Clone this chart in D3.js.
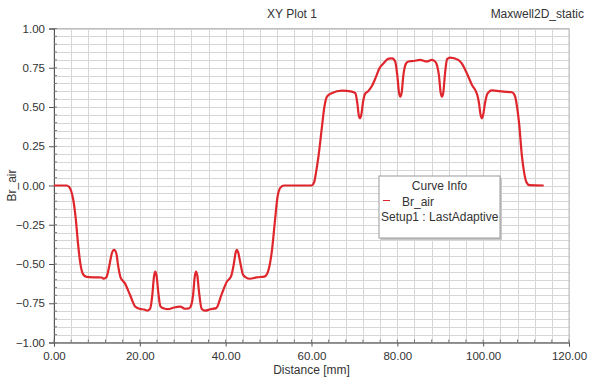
<!DOCTYPE html>
<html>
<head>
<meta charset="utf-8">
<script src="https://cdn.jsdelivr.net/npm/d3@7"></script>
<style>
  body { margin: 0; background: #fff; }
  svg { display: block; font-family: "Liberation Sans", Arial, sans-serif; }
</style>
</head>
<body>
<svg id="chart" width="593" height="379"></svg>
<script>
// Radial flux density in the air gap along the sampling line
const distance = [
  0, 2.9, 3.5, 4.0, 4.5, 5.1, 5.6, 6.1, 6.8, 7.6,
  9.5, 11.1, 11.6, 12.2, 12.9, 13.5, 14.0, 14.5, 15.0, 15.5,
  16.5, 17.7, 18.9, 20.0, 21.0, 21.8, 22.4, 22.9, 23.3, 23.6,
  23.9, 24.3, 24.8, 25.5, 26.6, 28.0, 29.4, 30.6, 31.5, 32.0,
  32.4, 32.8, 33.1, 33.4, 33.8, 34.4, 35.2, 36.4, 37.8, 39.1,
  40.3, 41.3, 41.9, 42.3, 42.6, 42.9, 43.4, 44.0, 44.6, 45.7,
  47.2, 49.0, 49.7, 50.3, 50.8, 51.5, 52.1, 52.8, 53.6, 60.0,
  60.6, 61.1, 61.6, 62.4, 63.0, 63.6, 64.7, 67.1, 69.4, 70.2,
  70.7, 71.0, 71.3, 71.6, 72.0, 72.5, 73.2, 74.1, 75.0, 75.8,
  76.8, 78.0, 78.8, 79.5, 80.0, 80.4, 80.7, 81.0, 81.4, 82.0,
  82.6, 83.8, 85.3, 86.9, 88.0, 88.8, 89.3, 89.7, 90.1, 90.4,
  90.7, 91.1, 91.6, 92.3, 94.2, 95.0, 96.2, 97.4, 98.3, 98.6,
  99.0, 99.4, 99.7, 100.0, 100.4, 101.0, 102.0, 104.7, 106.7, 107.4,
  107.9, 108.4, 109.0, 109.5, 110.1, 110.8, 114.1
];
const brAir = [
  0, 0, -0.008, -0.035, -0.092, -0.22, -0.37, -0.49, -0.567, -0.582,
  -0.585, -0.586, -0.594, -0.585, -0.51, -0.43, -0.41, -0.43, -0.52, -0.585,
  -0.622, -0.696, -0.771, -0.786, -0.79, -0.797, -0.785, -0.70, -0.58, -0.548,
  -0.575, -0.68, -0.77, -0.782, -0.788, -0.777, -0.772, -0.785, -0.782, -0.76,
  -0.70, -0.58, -0.548, -0.575, -0.68, -0.785, -0.797, -0.788, -0.781, -0.69,
  -0.612, -0.575, -0.50, -0.43, -0.41, -0.425, -0.49, -0.565, -0.583, -0.594,
  -0.585, -0.58, -0.56, -0.5, -0.41, -0.22, -0.07, -0.012, 0, 0,
  0.02, 0.09, 0.18, 0.365, 0.5, 0.566, 0.588, 0.604, 0.598, 0.588,
  0.52, 0.45, 0.428, 0.45, 0.53, 0.585, 0.6, 0.635, 0.69, 0.745,
  0.779, 0.808, 0.81, 0.79, 0.70, 0.59, 0.566, 0.59, 0.70, 0.776,
  0.79, 0.793, 0.8, 0.79, 0.8, 0.79, 0.76, 0.70, 0.59, 0.566,
  0.59, 0.71, 0.805, 0.815, 0.8, 0.778, 0.715, 0.64, 0.6, 0.58,
  0.53, 0.45, 0.428, 0.45, 0.52, 0.585, 0.606, 0.598, 0.594, 0.57,
  0.5, 0.39, 0.195, 0.09, 0.02, 0.002, 0
];
const xTickValues = [0, 20, 40, 60, 80, 100, 120];
const yTickValues = [1, 0.75, 0.5, 0.25, 0, -0.25, -0.5, -0.75, -1];
const xGridStep = 4;
const yGridStep = 0.05;

const titleText = "XY Plot 1";
const projectText = "Maxwell2D_static";
const xLabel = "Distance [mm]";
const yLabel = "Br_air";
const legendTitle = "Curve Info";
const legendSeries = "Br_air";
const legendSetup = "Setup1 : LastAdaptive";

const svg = d3.select("#chart");
const plot = { left: 54, right: 569, top: 28.5, bottom: 342.5 };

const x = d3.scaleLinear().domain([0, 120]).range([plot.left, plot.right]);
const y = d3.scaleLinear().domain([-1, 1]).range([plot.bottom, plot.top]);

// grid
const gridX = d3.range(0, 120 + 1e-9, xGridStep);
const gridY = d3.range(-1, 1 + 1e-9, yGridStep);
const grid = svg.append("g").attr("stroke", "#d6d6d6").attr("stroke-width", 1).attr("shape-rendering", "crispEdges");
grid.selectAll("line.gx").data(gridX).join("line").attr("class", "gx")
  .attr("x1", d => Math.round(x(d)) + 0.5).attr("x2", d => Math.round(x(d)) + 0.5)
  .attr("y1", plot.top).attr("y2", plot.bottom);
grid.selectAll("line.gy").data(gridY).join("line").attr("class", "gy")
  .attr("y1", d => Math.round(y(d)) + 0.5).attr("y2", d => Math.round(y(d)) + 0.5)
  .attr("x1", plot.left).attr("x2", plot.right);

// frame
svg.append("rect")
  .attr("x", plot.left).attr("y", plot.top)
  .attr("width", plot.right - plot.left).attr("height", plot.bottom - plot.top)
  .attr("fill", "none").attr("stroke", "#bdbdbd");

// axes
const xAxis = d3.axisBottom(x).tickValues(xTickValues).tickFormat(d3.format(".2f")).tickSize(4);
const yAxis = d3.axisLeft(y).tickValues(yTickValues).tickFormat(d3.format(".2f")).tickSize(5);

const gx = svg.append("g").attr("transform", `translate(0,${plot.bottom})`).call(xAxis);
const gy = svg.append("g").attr("transform", `translate(${plot.left},0)`).call(yAxis);
[gx, gy].forEach(g => {
  g.select(".domain").attr("stroke", "#555");
  g.selectAll(".tick line").attr("stroke", "#555");
  g.selectAll(".tick text").attr("fill", "#333").attr("font-size", 11.5)
    .attr("font-family", "\"Liberation Sans\", Arial, sans-serif");
});
gx.selectAll(".tick text").attr("dy", "0.95em");
gy.selectAll(".tick text").attr("dx", "-1px");

// minor ticks along axes
svg.append("g").attr("stroke", "#777").selectAll("line").data(gridY).join("line")
  .attr("x1", plot.left).attr("x2", plot.left + 3)
  .attr("y1", d => y(d)).attr("y2", d => y(d));
svg.append("g").attr("stroke", "#777").selectAll("line").data(gridX).join("line")
  .attr("y1", plot.bottom).attr("y2", plot.bottom - 3)
  .attr("x1", d => x(d)).attr("x2", d => x(d));

// curve
const line = d3.line().x((d, i) => x(distance[i])).y(d => y(d)).curve(d3.curveMonotoneX);
svg.append("path").datum(brAir)
  .attr("d", line)
  .attr("fill", "none").attr("stroke", "#e0262d").attr("stroke-width", 2.2)
  .attr("stroke-linejoin", "round");

// titles
svg.append("text").attr("x", 292).attr("y", 18).attr("text-anchor", "middle")
  .attr("font-size", 12).attr("fill", "#333").text(titleText);
svg.append("text").attr("x", 584).attr("y", 18).attr("text-anchor", "end")
  .attr("font-size", 12).attr("fill", "#333").text(projectText);
svg.append("text").attr("x", (plot.left + plot.right) / 2).attr("y", 374).attr("text-anchor", "middle")
  .attr("font-size", 12).attr("fill", "#333").text(xLabel);
svg.append("text").attr("transform", `translate(16,${y(0)}) rotate(-90)`).attr("text-anchor", "middle")
  .attr("font-size", 12).attr("fill", "#333").text(yLabel);

// legend
const lg = svg.append("g").attr("transform", "translate(379,176)");
lg.append("rect").attr("x", 2).attr("y", 2).attr("width", 121).attr("height", 62).attr("fill", "#c8c8c8");
lg.append("rect").attr("x", 0).attr("y", 0).attr("width", 121).attr("height", 62)
  .attr("fill", "#fff").attr("stroke", "#9a9a9a");
lg.append("text").attr("x", 60.5).attr("y", 14).attr("text-anchor", "middle")
  .attr("font-size", 12).attr("fill", "#333").text(legendTitle);
lg.append("line").attr("x1", 4).attr("x2", 11).attr("y1", 24.5).attr("y2", 24.5)
  .attr("stroke", "#e0262d").attr("stroke-width", 1);
lg.append("text").attr("x", 23).attr("y", 30).attr("font-size", 12).attr("fill", "#333").text(legendSeries);
lg.append("text").attr("x", 2).attr("y", 45).attr("font-size", 12).attr("fill", "#333").text(legendSetup);
</script>
</body>
</html>
